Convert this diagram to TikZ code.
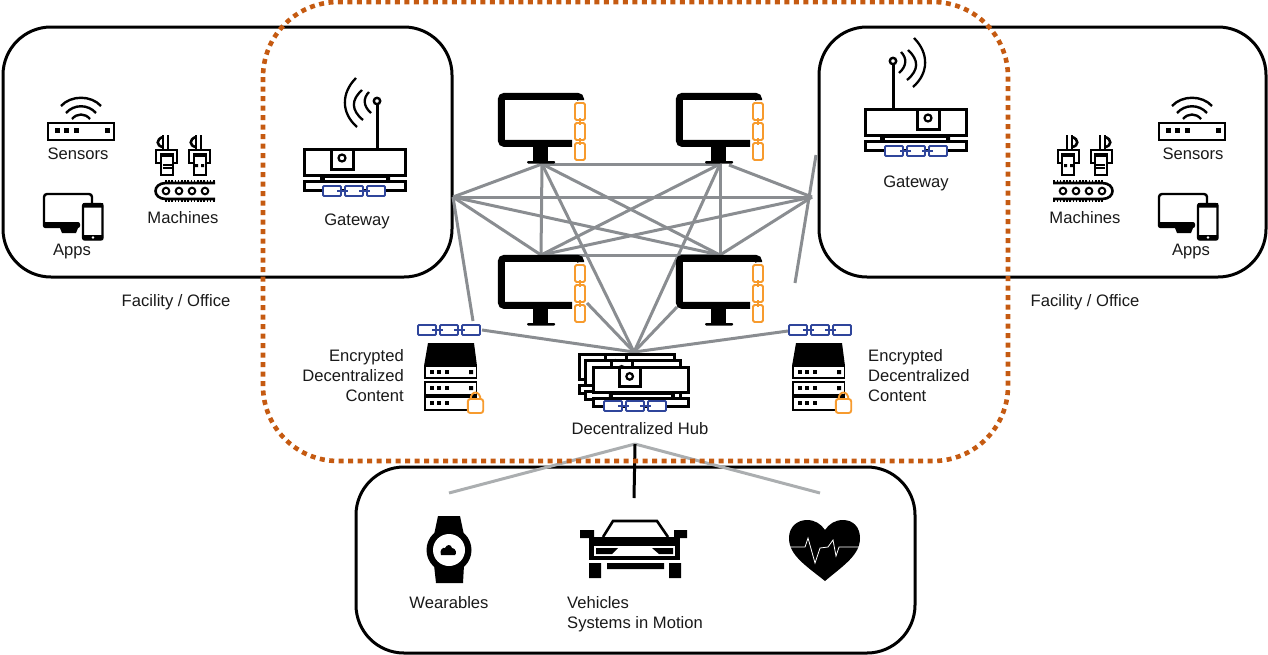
\documentclass[tikz,border=0pt]{standalone}
\usepackage{fontspec}
\setmainfont{Liberation Sans}
\definecolor{meshgrey}{HTML}{8A8D91}
\definecolor{lightgrey}{HTML}{ABAEB0}
\definecolor{rimorange}{HTML}{C55A11}
\definecolor{linkorange}{HTML}{F79B2E}
\definecolor{linkblue}{HTML}{2F459B}
\tikzset{
    lbl/.style={font=\fontsize{16.6}{20}\selectfont,text=black!90,inner sep=0pt},
    frame/.style={line width=3pt,rounded corners=48pt},
    mesh/.style={line width=3pt,meshgrey},
    chainv/.pic={
        \foreach \y in {0,20,40}
        {
            \draw[line width=1.8pt,linkorange,rounded corners=1.5pt] (0,\y) rectangle (10,\y+17);
        }
        \draw[line width=1.4pt,linkorange] (5,15) -- (5,22) (5,35) -- (5,42);
    },
    chainh/.pic={
        \foreach \x in {0,22,44}
        {
            \draw[line width=1.9pt,linkblue,fill=white,rounded corners=1pt] (\x,0) rectangle (\x+18,10);
        }
        \draw[line width=1.4pt,linkblue] (14,5) -- (25,5) (36,5) -- (47,5);
    },
    monitor/.pic={
        \draw[line width=7pt,rounded corners=3pt] (82.5,7) -- (82.5,3.4) -- (3.4,3.4) -- (3.4,50.4) -- (74,50.4);
        \fill (35,54) rectangle (50,68);
        \fill[rounded corners=1pt] (29,68) rectangle (57,70.5);
        \pic[transform shape] at (77,10) {chainv};
    },
    gatebody/.pic={
        \draw[line width=3pt,fill=white] (1,1) rectangle (102,27);
        \draw[line width=3pt,fill=white] (28,1) rectangle (50,21);
        \draw[line width=2.2pt] (39,10) circle[radius=3.5pt];
        \fill (17,27) rectangle (21,33) (83,27) rectangle (87,33);
        \draw[line width=1pt,fill=white] (21,29) rectangle (83,33);
        \draw[line width=3pt,fill=white] (1,33) rectangle (102,42);
    },
    gateway/.pic={
        \draw[line width=3pt] (74,0) -- (74,-44);
        \draw[line width=2.4pt,fill=white] (74,-47) circle[radius=3.2pt];
        \draw[line width=2.3pt] (53,-70) .. controls (38,-55) and (38,-35) .. (54,-21);
        \draw[line width=2.3pt] (59,-58) .. controls (48,-48) and (48,-38) .. (60,-28);
        \draw[line width=2.3pt] (66,-56) .. controls (60,-50) and (60,-42) .. (68,-35);
        \pic[transform shape] {gatebody};
        \pic[transform shape] at (20,38) {chainh};
    },
    sensor/.pic={
        \draw[line width=2.4pt] (1,1) rectangle (67,18);
        \foreach \x in {10,19,29,60}
        {
            \fill (\x-2.5,6) rectangle (\x+2.5,11);
        }
        \draw[line width=2.4pt] (14,-16) .. controls (24,-27) and (44,-27) .. (54,-16);
        \draw[line width=2.4pt] (19,-9) .. controls (27,-18) and (41,-18) .. (49,-9);
        \draw[line width=2.4pt] (25,-3) .. controls (30,-9) and (38,-9) .. (43,-3);
    },
    apps/.pic={
        \draw[line width=2.4pt,rounded corners=3pt] (49,10) -- (49,1) -- (1,1) -- (1,33);
        \fill[rounded corners=2pt] (0,29) rectangle (37,35);
        \fill (17,35) -- (35,35) -- (33,40) -- (19,40) -- cycle;
        \draw[line width=2.4pt,fill=white,rounded corners=2pt] (40,11) rectangle (59.5,46.5);
        \fill (40,10) rectangle (60,14.5) (40,42) rectangle (60,47);
        \fill[white] (50,44.5) circle[radius=1.3pt];
    },
    robot/.pic={
        \draw[line width=2.6pt] (8,0) -- (8,14) (13,0) -- (13,14);
        \draw[line width=2.6pt] (8,2) .. controls (1,4) and (1,11) .. (8,12);
        \draw[line width=2.6pt,fill=white] (1,15) rectangle (22,28);
        \draw[line width=2.6pt,fill=white] (6,19) rectangle (18,40);
        \fill (6,18) rectangle (18,22);
    },
    conveyor/.pic={
        \draw[line width=2.6pt] (60,3) -- (11,3) .. controls (-3,3) and (-3,19) .. (11,19) -- (60,19);
        \draw[line width=2pt,dash pattern=on 1.6pt off 1.6pt] (10,1) -- (60,1) (10,21) -- (60,21);
        \foreach \x in {11,24,37,50}
        {
            \draw[line width=2pt] (\x,11) circle[radius=3.3pt];
        }
    },
    machines/.pic={
        \pic[transform shape] at (0,0) {robot};
        \pic[transform shape] at (33,0) {robot};
        \draw[line width=1.2pt] (8,30) -- (17,30) (8,33) -- (17,33);
        \fill (40,29) rectangle (43,32) (46,29) rectangle (49,32);
        \pic[transform shape] at (0,45) {conveyor};
    },
    lockpic/.pic={
        \draw[line width=1.9pt,linkorange] (3.5,8) .. controls (3.5,-2) and (13.5,-2) .. (13.5,8);
        \draw[line width=1.9pt,linkorange,fill=white,rounded corners=2.5pt] (0.8,7) rectangle (16.2,21);
    },
    server/.pic={
        \fill (4,0) -- (50,0) -- (53,23) -- (0,23) -- cycle;
        \draw[line width=1.6pt] (0.7,23) rectangle (52.5,35);
        \draw[line width=1.6pt] (0.7,39) rectangle (52.5,52);
        \draw[line width=1.6pt] (0.7,54) rectangle (52.5,67);
        \foreach \y in {29,45,60}
        {
            \foreach \x in {8,15,23}
            {
                \fill (\x-2,\y-2) rectangle (\x+2,\y+2);
            }
        }
        \fill (45,27) rectangle (49,31) (45,43) rectangle (49,47);
        \pic[transform shape] at (43,49) {lockpic};
    },
}
\begin{document}
\begin{tikzpicture}[x=1pt,y=-1pt]
    \useasboundingbox (0,0) rectangle (1268,654);

    \coordinate (gwleft) at (453,197);
    \coordinate (gwright) at (812,197);
    \coordinate (mona) at (542,164);
    \coordinate (monb) at (720,164);
    \coordinate (monbr) at (729,165);
    \coordinate (monc) at (541,255);
    \coordinate (moncr) at (587,303);
    \coordinate (mond) at (720,255);
    \coordinate (mondl) at (677,307);
    \coordinate (hubtop) at (634,352);
    \coordinate (linkleft) at (473,321);
    \coordinate (linkleftend) at (482,330);
    \coordinate (linkrightend) at (788,331);
    \coordinate (stubtop) at (816,155);
    \coordinate (stubbot) at (795,283);
    \coordinate (hubdown) at (635,444);
    \coordinate (wearend) at (449,493);
    \coordinate (carend) at (634,498);
    \coordinate (heartend) at (820,493);

    \draw[frame] (3,27) rectangle (452,277);
    \draw[frame] (819,27) rectangle (1266,277);
    \draw[frame] (356,467) rectangle (915,653);

    \foreach \a/\b in {mona/monb,mona/monc,monb/mond,monc/mond,mona/mond,monb/monc,
        mona/hubtop,monb/hubtop,moncr/hubtop,mondl/hubtop,
        gwleft/mona,gwleft/gwright,gwleft/monc,gwleft/mond,gwleft/linkleft,
        gwright/monbr,gwright/monc,gwright/mond,stubtop/stubbot,
        linkleftend/hubtop,linkrightend/hubtop}
    {
        \draw[mesh] (\a) -- (\b);
    }

    \draw[line width=3pt,lightgrey] (hubdown) -- (wearend);
    \draw[line width=3pt,lightgrey] (hubdown) -- (heartend);
    \draw[line width=3pt] (hubdown) -- (carend);

    \draw[line width=4.6pt,rimorange,dash pattern=on 5pt off 4.5pt,rounded corners=75pt]
    (263,2) rectangle (1008,461);

    \pic at (47,122) {sensor};
    \pic at (1158,122) {sensor};
    \pic at (43,193) {apps};
    \pic at (1158,193) {apps};
    \pic at (155,135) {machines};
    \pic[xscale=-1] at (1113,135) {machines};
    \pic at (303,148) {gateway};
    \pic[xscale=-1] at (967,108) {gateway};

    \foreach \x/\y in {498/93,676/93,498/255,676/255}
    {
        \pic at (\x,\y) {monitor};
    }

    \pic at (418,325) {chainh};
    \pic at (789,325) {chainh};
    \pic at (424,343) {server};
    \pic at (792,343) {server};

    \pic[scale=0.94] at (579,354) {gatebody};
    \pic[scale=0.94] at (585,360) {gatebody};
    \pic[scale=0.94] at (593,367) {gatebody};
    \pic at (604,401) {chainh};

    \fill (438,516) -- (460,516) -- (464,535) -- (434,535) -- cycle;
    \fill (434,565) -- (464,565) -- (463,583) -- (436,583) -- cycle;
    \fill (449,550) circle[radius=22.5pt];
    \fill[white] (449,550) circle[radius=16pt];
    \fill (441,555) .. controls (439,550) and (443,547) .. (445,548)
    .. controls (447,544) and (451,544) .. (452,548)
    .. controls (456,548) and (457,554) .. (455,555) -- cycle;

    \draw[line width=2.6pt] (603,537) -- (613,521) -- (657,521) -- (668,537);
    \fill (580,530) rectangle (594,538) (674,530) rectangle (687,538);
    \fill (589,537) rectangle (680,560);
    \fill[white] (594,546) rectangle (675,556);
    \fill (596,548) -- (618,548) -- (612,554) -- (596,554) -- cycle;
    \fill (652,548) -- (673,548) -- (673,554) -- (659,554) -- cycle;
    \fill (589,563) rectangle (601,578) (669,563) rectangle (681,578) (607,563) rectangle (664,569);

    \fill (825,581) .. controls (805,565) and (789,555) .. (789,538)
    .. controls (789,527) and (797,520) .. (807,520)
    .. controls (815,520) and (821,524) .. (825,530)
    .. controls (829,524) and (835,520) .. (843,520)
    .. controls (853,520) and (860,527) .. (860,538)
    .. controls (860,555) and (844,565) .. (825,581) -- cycle;
    \draw[white,line width=0.8pt] (790,547) -- (805,547) -- (808,538) -- (815,563) -- (820,548) -- (828,547) -- (833,540) -- (836,556) -- (839,547) -- (860,547);

    \node[lbl] (sensorsleft) at (78,153.5) {Sensors};
    \node[lbl] (appsleft) at (72,252) {Apps};
    \node[lbl] (machinesleft) at (183,217.5) {Machines};
    \node[lbl] (gatewayleft) at (357,221) {Gateway};
    \node[lbl] (facilityleft) at (176,302) {Facility / Office};
    \node[lbl] (sensorsright) at (1193,153.5) {Sensors};
    \node[lbl] (appsright) at (1191,252) {Apps};
    \node[lbl] (machinesright) at (1085,217.5) {Machines};
    \node[lbl] (gatewayright) at (916,183) {Gateway};
    \node[lbl] (facilityright) at (1085,302) {Facility / Office};
    \node[lbl,align=right,anchor=east] (contentleft) at (404,375.5) {Encrypted\\Decentralized\\Content};
    \node[lbl,align=left,anchor=west] (contentright) at (868,375.5) {Encrypted\\Decentralized\\Content};
    \node[lbl] (hublabel) at (640,428.5) {Decentralized Hub};
    \node[lbl] (wearables) at (449,602.5) {Wearables};
    \node[lbl,align=left,anchor=west] (vehicles) at (567,614.5) {Vehicles\\Systems in Motion};
\end{tikzpicture}
\end{document}
